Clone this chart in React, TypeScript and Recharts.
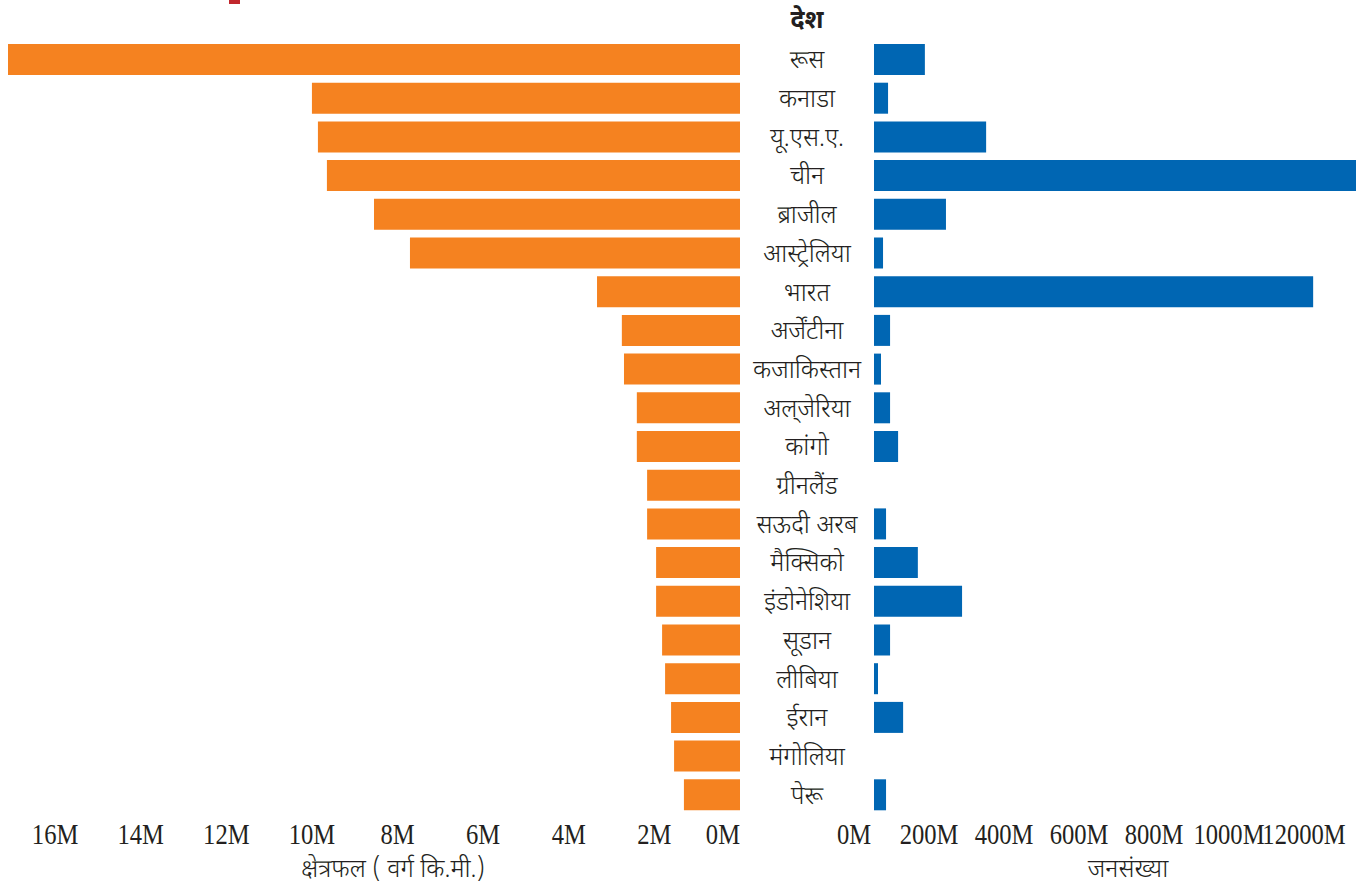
import React from "react";
import { BarChart, Bar, XAxis, YAxis } from "recharts";

// देश
const countries = [
    "रूस",
    "कनाडा",
    "यू.एस.ए.",
    "चीन",
    "ब्राजील",
    "आस्ट्रेलिया",
    "भारत",
    "अर्जेंटीना",
    "कजाकिस्तान",
    "अल्\u200Cजेरिया",
    "कांगो",
    "ग्रीनलैंड",
    "सऊदी अरब",
    "मैक्सिको",
    "इंडोनेशिया",
    "सूडान",
    "लीबिया",
    "ईरान",
    "मंगोलिया",
    "पेरू",
];

// क्षेत्रफल, million sq km
const areaM = [
    17.1, 10.0, 9.86, 9.65, 8.55, 7.71, 3.34, 2.76, 2.71, 2.41, 2.41, 2.17,
    2.17, 1.96, 1.96, 1.82, 1.75, 1.61, 1.54, 1.31,
];

// जनसंख्या, millions
const popM = [
    152, 42, 335, 1440, 215, 27, 1312, 48, 21, 48, 72, 0, 36, 131, 263, 48, 12,
    87, 0, 36,
];

const areaTicks = [0, 2, 4, 6, 8, 10, 12, 14, 16];
const popTicks = [0, 200, 400, 600, 800, 1000, 1200];
const popTickLabels = ["0M", "200M", "400M", "600M", "800M", "1000M", "12000M"];

const data = countries.map((name, i) => ({
    name,
    area: areaM[i] * 1e6,
    pop: popM[i],
}));

const ORANGE = "#f58220";
const BLUE = "#0066b3";
const INK = "#231f20";
const DEVA = "'Noto Sans Devanagari', 'Lohit Devanagari', FreeSerif, 'Noto Sans', sans-serif";

function NumTick(props: any) {
    const { x, y, payload, anchorZero, labelFor } = props;
    const anchor = anchorZero && payload.value === 0 ? "end" : "middle";
    return (
        <text
            transform={`translate(${x},${y}) scale(0.82,1)`}
            textAnchor={anchor}
            dy={30}
            fontFamily="'Liberation Serif', serif"
            fontSize={30}
            fill={INK}
        >
            {labelFor(payload.value)}
        </text>
    );
}

function CountryTick(props: any) {
    const { x, y, payload } = props;
    return (
        <text
            x={x + 67}
            y={y}
            dy={9}
            textAnchor="middle"
            fontFamily={DEVA}
            fontWeight={300}
            fontSize={25}
            fill={INK}
        >
            {payload.value}
        </text>
    );
}

export default function App() {
    return (
        <div
            style={{
                position: "absolute",
                left: 0,
                top: 0,
                width: 1362,
                height: 889,
                overflow: "hidden",
                background: "#fff",
            }}
        >
            {/* bit of the cut-off title */}
            <div
                style={{
                    position: "absolute",
                    left: 229,
                    top: 0,
                    width: 11,
                    height: 4,
                    background: "#c1272d",
                }}
            />

            {/* LEFT: area */}
            <div style={{ position: "absolute", left: 0, top: 0 }}>
                <BarChart
                    width={874}
                    height={889}
                    layout="vertical"
                    data={data}
                    margin={{ top: 40, right: 0, bottom: 0, left: 8 }}
                    barSize={31}
                >
                    <XAxis
                        type="number"
                        dataKey="area"
                        reversed
                        domain={[0, 17.1e6]}
                        ticks={areaTicks.map((t) => t * 1e6)}
                        height={75}
                        axisLine={false}
                        tickLine={false}
                        tickSize={0}
                        tickMargin={0}
                        interval={0}
                        tick={
                            <NumTick
                                anchorZero
                                labelFor={(v: number) => `${v / 1e6}M`}
                            />
                        }
                    />
                    <YAxis
                        type="category"
                        dataKey="name"
                        orientation="right"
                        width={134}
                        axisLine={false}
                        tickLine={false}
                        tickSize={0}
                        tickMargin={0}
                        interval={0}
                        tick={<CountryTick />}
                    />
                    <Bar
                        dataKey="area"
                        fill={ORANGE}
                        isAnimationActive={false}
                    />
                </BarChart>
            </div>

            {/* RIGHT: population */}
            <div style={{ position: "absolute", left: 820, top: 0 }}>
                <BarChart
                    width={542}
                    height={889}
                    layout="vertical"
                    data={data}
                    margin={{ top: 40, right: 6, bottom: 0, left: 34 }}
                    barSize={31}
                >
                    <XAxis
                        xAxisId="pop"
                        type="number"
                        dataKey="pop"
                        domain={[0, 1440]}
                        padding={{ left: 20, right: 0 }}
                        hide
                    />
                    <XAxis
                        xAxisId="lbl"
                        type="number"
                        domain={[0, 1200]}
                        allowDataOverflow
                        padding={{ left: 0, right: 52 }}
                        ticks={popTicks}
                        height={75}
                        axisLine={false}
                        tickLine={false}
                        tickSize={0}
                        tickMargin={0}
                        interval={0}
                        tick={
                            <NumTick
                                labelFor={(v: number) =>
                                    popTickLabels[popTicks.indexOf(v)]
                                }
                            />
                        }
                    />
                    <YAxis type="category" dataKey="name" hide />
                    <Bar
                        dataKey="pop"
                        xAxisId="pop"
                        fill={BLUE}
                        isAnimationActive={false}
                    />
                </BarChart>
            </div>

            {/* headers and axis titles */}
            <div
                style={{
                    position: "absolute",
                    left: 740,
                    width: 134,
                    top: 6,
                    textAlign: "center",
                    fontFamily: DEVA,
                    fontWeight: "bold",
                    fontSize: 25,
                    color: INK,
                }}
            >
                देश
            </div>
            <div
                style={{
                    position: "absolute",
                    left: 193,
                    width: 400,
                    top: 855,
                    textAlign: "center",
                    fontFamily: DEVA,
                    fontWeight: 300,
                    fontSize: 25,
                    color: INK,
                }}
            >
                क्षेत्रफल ( वर्ग कि.मी.)
            </div>
            <div
                style={{
                    position: "absolute",
                    left: 978,
                    width: 300,
                    top: 855,
                    textAlign: "center",
                    fontFamily: DEVA,
                    fontWeight: 300,
                    fontSize: 25,
                    color: INK,
                }}
            >
                जनसंख्या
            </div>
        </div>
    );
}
